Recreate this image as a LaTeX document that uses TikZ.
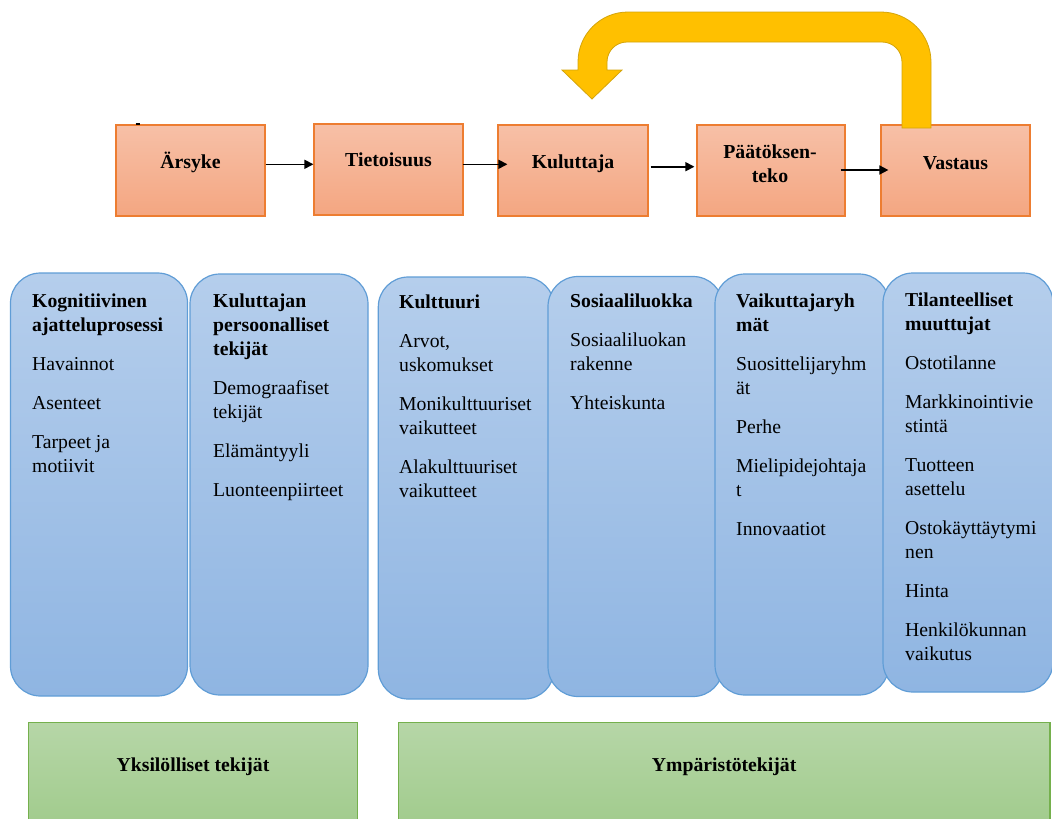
\documentclass[tikz,border=0pt]{standalone}
\usepackage{fontspec}
\setmainfont{Liberation Serif}
\usetikzlibrary{arrows.meta}

\definecolor{otop}{RGB}{247,192,167}
\definecolor{obot}{RGB}{244,166,129}
\definecolor{oborder}{RGB}{237,125,49}
\definecolor{btop}{RGB}{181,206,236}
\definecolor{bbot}{RGB}{143,181,226}
\definecolor{bborder}{RGB}{96,157,214}
\definecolor{gtop}{RGB}{182,214,167}
\definecolor{gbot}{RGB}{158,202,137}
\definecolor{gborder}{RGB}{117,176,77}
\definecolor{loopfill}{RGB}{255,192,0}
\definecolor{loopborder}{RGB}{212,164,10}

\begin{document}
\begin{tikzpicture}[x=1pt,y=1pt,
  stage/.style={draw=oborder, line width=1.2pt, top color=otop, bottom color=obot,
    minimum width=149pt, minimum height=91pt, inner sep=0pt},
  stagetext/.style={font=\fontsize{19.8}{24}\selectfont\bfseries, inner sep=0pt, align=center},
  factor/.style={draw=bborder, line width=1.2pt, top color=btop, bottom color=bbot,
    rounded corners=30pt, inner sep=0pt},
  factortext/.style={anchor=north west, inner sep=0pt, align=left,
    font=\fontsize{19.7}{24}\selectfont},
  group/.style={draw=gborder, line width=1.2pt, top color=gtop, bottom color=gbot, inner sep=0pt},
  grouptext/.style={anchor=base, inner sep=0pt, font=\fontsize{19.7}{24}\selectfont\bfseries},
  flow/.style={-{Triangle[length=9pt,width=9pt]}, line width=1.6pt, black},
]
\useasboundingbox (0,0) rectangle (1052,-819);
\clip (0,0) rectangle (1052,-819);

% --- process chain ---
\node[stage] (ars) at (190.5,-170.5) {};
\node[stage] (tie) at (388.5,-169.5) {};
\node[stage, minimum width=150pt] (kul) at (573,-170.5) {};
\node[stage, minimum width=148pt] (pat) at (771,-170.5) {};
\node[stage] (vas) at (955.5,-170.5) {};

\node[stagetext, anchor=base] (arsT) at ([yshift=2pt]ars.center) {Ärsyke};
\node[stagetext, anchor=base] (tieT) at ([yshift=2.8pt]tie.center) {Tietoisuus};
\node[stagetext, anchor=base] (kulT) at ([yshift=2.2pt]kul.center) {Kuluttaja};
\node[stagetext, anchor=north] (patT) at ([yshift=26pt,xshift=-1pt]pat.center) {Päätöksen-\\teko};
\node[stagetext, anchor=base] (vasT) at ([yshift=1.2pt]vas.center) {Vastaus};

\draw[line width=1.6pt] (135.5,-123.8) -- (139.5,-123.8);

\draw[flow] ([yshift=6.2pt]ars.east) -- ([yshift=5.2pt]tie.west);
\draw[flow] ([yshift=5.2pt,xshift=-1pt]tie.east) -- ([yshift=6.2pt,xshift=10pt]kul.west);
\draw[flow] ([yshift=3.8pt,xshift=2pt]kul.east) -- ([yshift=3.8pt,xshift=-2pt]pat.west);
\draw[flow] ([yshift=0.5pt,xshift=-5pt]pat.east) -- ([yshift=0.5pt,xshift=8pt]vas.west);

% --- feedback loop from response back to the consumer ---
\draw[draw=loopborder, line width=0.8pt, fill=loopfill]
  (931,-128) -- (931,-62) arc[start angle=0,end angle=90,radius=50pt]
  -- (628,-12) arc[start angle=90,end angle=180,radius=50pt]
  -- (578,-70) -- (562,-70) -- (592,-99) -- (622,-70) -- (607,-70)
  -- (607,-62) arc[start angle=180,end angle=90,radius=20pt]
  -- (882,-42) arc[start angle=90,end angle=0,radius=20pt]
  -- (902,-128) -- cycle;

% --- factor columns ---
\node[factor, minimum width=177pt, minimum height=423pt] (c1) at (99,-484.5) {};
\node[factor, minimum width=178pt, minimum height=421pt] (c2) at (279,-484.5) {};
\node[factor, minimum width=176pt, minimum height=422pt] (c3) at (466.3,-488) {};
\node[factor, minimum width=175pt, minimum height=420pt] (c4) at (635.5,-486.5) {};
\node[factor, minimum width=174pt, minimum height=421pt] (c5) at (802,-484.5) {};
\node[factor, minimum width=170pt, minimum height=419pt] (c6) at (968,-482.5) {};

\node[factortext] (t1) at (32,-293.5)
  {\textbf{Kognitiivinen}\\\textbf{ajatteluprosessi}\\[15pt]Havainnot\\[15pt]Asenteet\\[15pt]Tarpeet ja\\motiivit};
\node[factortext] (t2) at (213,-293.5)
  {\textbf{Kuluttajan}\\\textbf{persoonalliset}\\\textbf{tekijät}\\[15pt]Demograafiset\\tekijät\\[15pt]Elämäntyyli\\[15pt]Luonteenpiirteet};
\node[factortext] (t3) at (399,-295.1)
  {\textbf{Kulttuuri}\\[15pt]Arvot,\\uskomukset\\[15pt]Monikulttuuriset\\vaikutteet\\[15pt]Alakulttuuriset\\vaikutteet};
\node[factortext] (t4) at (570,-294.1)
  {\textbf{Sosiaaliluokka}\\[15pt]Sosiaaliluokan\\rakenne\\[15pt]Yhteiskunta};
\node[factortext] (t5) at (736,-293.5)
  {\textbf{Vaikuttajaryh}\\\textbf{mät}\\[15pt]Suosittelijaryhm\\ät\\[15pt]Perhe\\[15pt]Mielipidejohtaja\\t\\[15pt]Innovaatiot};
\node[factortext] (t6) at (905,-292.5)
  {\textbf{Tilanteelliset}\\\textbf{muuttujat}\\[15pt]Ostotilanne\\[15pt]Markkinointivie\\stintä\\[15pt]Tuotteen\\asettelu\\[15pt]Ostokäyttäytymi\\nen\\[15pt]Hinta\\[15pt]Henkilökunnan\\vaikutus};

% --- factor groups ---
\node[group, minimum width=329.4pt, minimum height=117.3pt] (yks) at (193,-781.35) {};
\node[group, minimum width=651.7pt, minimum height=117.3pt] (ymp) at (724.15,-781.35) {};
\node[grouptext] (yksT) at ([yshift=-49pt]yks.north) {Yksilölliset tekijät};
\node[grouptext] (ympT) at ([yshift=-49pt]ymp.north) {Ympäristötekijät};
\end{tikzpicture}
\end{document}
